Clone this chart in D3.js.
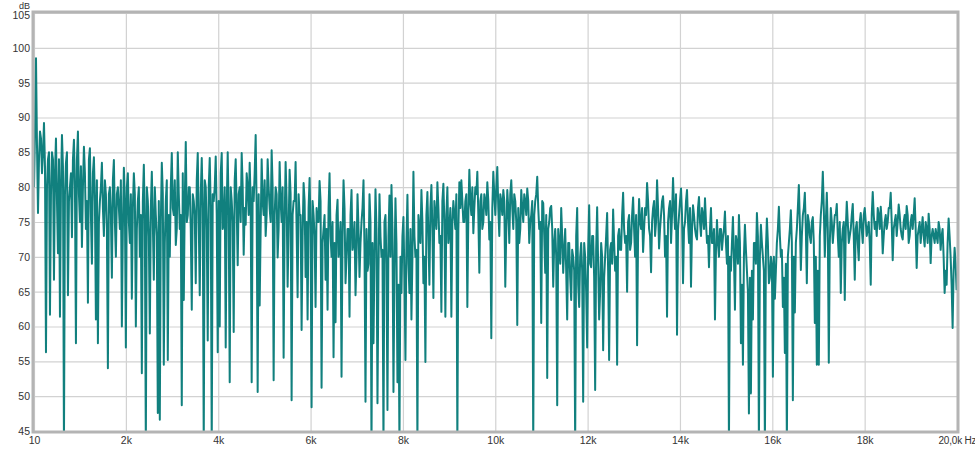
<!DOCTYPE html>
<html>
<head>
<meta charset="utf-8">
<script src="https://cdn.jsdelivr.net/npm/d3@7"></script>
<style>
  html, body { margin: 0; padding: 0; background: #fff; }
  svg { display: block; font-family: "Liberation Sans", Arial, sans-serif; }
</style>
</head>
<body>
<svg id="chart" width="975" height="450"></svg>
<script>
// ---- data ----
const freqStart = 10;      // Hz, first bin
const freqStep = 43.25;    // Hz between bins of `levels`
// levels at bins freqStart + i*freqStep
const levels = [
  80, 98.5, 76.3, 88, 82, 89.2, 56.3, 84, 61.7, 85,
  66.7, 87, 70.5, 61.4, 87.5, 43, 83.5, 64.5, 80, 72.8,
  86.8, 57.6, 88, 75, 71.4, 85.8, 74, 63.4, 85.6, 69,
  84.3, 61, 57.6, 78, 83.5, 73, 79, 54, 80, 67,
  83.9, 70, 80, 74, 60, 82.8, 57, 82, 72, 64,
  82, 60, 78, 70, 53.3, 83.2, 43, 78, 59, 82.2,
  66.7, 76, 47.6, 46.6, 83.5, 54.5, 78, 55.2, 70, 84.9,
  76, 71.7, 85, 74, 48.7, 63.8, 86.5, 76, 80, 62.4,
  78, 66.2, 84.9, 64.5, 84.2, 43, 80, 58, 84.2, 43,
  78, 84.4, 56.3, 60, 84.9, 75, 57, 85, 52, 78,
  59.2, 84, 68.8, 80, 84.9, 70.3, 74.6, 80, 83.5, 52,
  78, 87.5, 50.6, 63, 84, 76, 73, 84, 77, 85.3,
  52.3, 80, 69.9, 83.6, 75, 55.5, 83.6, 65.7, 82.5, 49.4,
  78, 83.6, 64.2, 76, 59.5, 80.6, 67.1, 61, 81.3, 48.4,
  76, 62.8, 75, 80.9, 51.2, 74, 66.7, 62.4, 82, 70,
  55.6, 60.6, 78.2, 72, 52.8, 81, 66.2, 74, 61.4, 79.6,
  72, 64.5, 79, 67.1, 75, 81, 49.2, 68, 79, 43,
  57.6, 79.7, 49, 79, 70, 43, 76, 48, 78.8, 80.3,
  50.6, 78.4, 52, 43, 64.8, 75.7, 55.2, 78.9, 64.8, 61,
  82.2, 70, 43, 74, 79.6, 66.2, 54.9, 79.3, 66, 80.3,
  64.1, 76, 80.7, 72, 62.1, 80.5, 61.4, 80, 74, 61.4,
  78, 74, 43, 80.7, 81, 75, 78, 62.8, 82.5, 76,
  73.4, 80, 82.2, 67.7, 79, 75, 78, 80.7, 72.5, 58.3,
  82.2, 76, 82.9, 73, 78, 79.6, 65.7, 79.6, 72, 81,
  74, 78, 60.2, 72, 79.6, 75, 78, 79.8, 72, 76,
  43, 78, 81.5, 74, 60.5, 77.7, 67.7, 52.6, 75, 77.3,
  65.7, 74, 48.7, 72, 77, 67.7, 74, 61, 72, 63.8,
  70, 43, 77, 62.8, 72, 49.2, 70, 57, 77.4, 68.5,
  73, 50.9, 77.1, 61, 72, 56.6, 70, 76.3, 55.2, 72,
  76.8, 68, 54.5, 74, 71, 79.2, 72, 65, 76, 72,
  78.5, 70, 57.3, 78.3, 74, 70.7, 77, 80.6, 74, 67.8,
  77, 73, 81, 71.2, 76, 78.7, 70, 61.4, 77, 72,
  81.3, 74, 58.8, 76, 79.8, 66.2, 75, 79.6, 72, 65.7,
  77.4, 74, 72.5, 78.6, 73, 76, 78.4, 72, 68.5, 77,
  72, 61, 75.3, 70, 74, 72.8, 76.5, 69, 43, 68,
  75.7, 62.4, 72, 76, 57.6, 54.5, 74.6, 68, 47.5, 50.4,
  61, 72, 76.3, 43, 74.6, 70, 43, 75.5, 66.2, 70,
  52.8, 64, 72, 77.2, 70, 62.8, 56.2, 43, 72, 76.7,
  49.4, 62, 74, 80.3, 68.1, 76, 79.2, 66.2, 75, 72,
  75.7, 60.5, 54.5, 54.5, 76, 82.2, 70, 79.2, 54.8, 77,
  72, 76, 77.6, 70, 64.8, 74, 63.8, 77.9, 72, 74,
  77.6, 66.7, 75, 69.5, 76.3, 72, 77, 73, 75, 66,
  79.3, 74, 73, 76, 77.2, 70.5, 75, 74, 77, 79.2,
  69.5, 75, 73, 77.5, 74, 72.5, 76, 77.3, 72, 75,
  74, 78.4, 68.4, 74, 72, 75.7, 71.5, 74, 76.2, 69.1,
  74, 72, 73, 75, 71, 74, 64.8, 66, 75.5, 70,
  59.8, 71.3, 65.2
];
// levels at the in-between bins freqStart + (i + 0.5)*freqStep
const levelsMid = [
  88, 86, 84, 87, 85, 83, 80, 85, 79, 84,
  82, 78, 84, 80, 83, 79, 85, 78, 82, 84,
  80, 84, 79, 83, 80, 82, 78, 84, 76, 82,
  78, 81, 75, 80, 77, 81, 74, 79, 76, 81,
  75, 79, 77, 81, 74, 78, 80, 75, 79, 77,
  79, 74, 80, 76, 78, 75, 80, 73, 77, 75,
  80, 73, 78, 75, 79, 72, 81, 76, 80, 77,
  81, 74, 79, 76, 82, 78, 75, 80, 74, 79,
  76, 81, 75, 79, 77, 81, 74, 80, 77, 79,
  80, 76, 78, 82, 74, 80, 77, 76, 80, 75,
  81, 77, 79, 75, 80, 77, 82, 76, 78, 80,
  82, 77, 79, 74, 78, 81, 76, 80, 75, 80,
  76, 79, 74, 78, 80, 75, 78, 74, 79, 76,
  78, 74, 79, 76, 73, 78, 75, 77, 74, 78,
  73, 77, 75, 78, 72, 76, 74, 77, 73, 75,
  72, 76, 70, 75, 73, 77, 70, 74, 76, 71,
  75, 70, 74, 72, 77, 71, 74, 69, 75, 72,
  70, 74, 68, 73, 71, 75, 69, 73, 70, 74,
  68, 72, 66, 70, 73, 67, 72, 69, 74, 70,
  73, 71, 76, 72, 75, 70, 76, 73, 77, 74,
  78, 74, 77, 73, 78, 75, 76, 72, 77, 75,
  76, 79, 74, 77, 78, 75, 79, 76, 78, 80,
  77, 79, 76, 78, 74, 79, 76, 78, 75, 77,
  79, 80, 77, 79, 76, 78, 74, 77, 79, 77,
  79, 75, 77, 74, 77, 79, 76, 78, 75, 78,
  76, 79, 77, 75, 78, 73, 76, 74, 77, 74,
  72, 70, 74, 69, 73, 71, 68, 72, 67, 71,
  68, 73, 66, 70, 68, 72, 65, 71, 69, 73,
  67, 71, 69, 65, 70, 67, 73, 68, 71, 69,
  72, 70, 73, 71, 76, 74, 73, 75, 71, 76,
  74, 76, 73, 75, 77, 74, 76, 78, 73, 75,
  78, 75, 77, 74, 78, 76, 73, 75, 78, 76,
  77, 79, 74, 78, 76, 74, 78, 75, 77, 74,
  76, 73, 77, 75, 77, 74, 75, 73, 74, 72,
  74, 71, 72, 74, 71, 74, 72, 73, 70, 72,
  70, 73, 69, 72, 66, 70, 71, 65, 67, 68,
  72, 69, 73, 70, 72, 68, 71, 72, 67, 69,
  70, 68, 74, 73, 71, 67, 69, 70, 74, 72,
  70, 72, 77, 75, 73, 77, 74, 76, 73, 75,
  72, 70, 68, 73, 78, 77, 75, 74, 72, 75,
  74, 76, 73, 75, 72, 75, 74, 75, 73, 76,
  73, 74, 72, 75, 74, 76, 75, 74, 72, 76,
  76, 75, 77, 74, 75, 73, 76, 75, 77, 75,
  74, 76, 75, 76, 73, 75, 74, 76, 73, 76,
  76, 74, 73, 75, 74, 73, 75, 72, 74, 73,
  73, 74, 72, 74, 73, 70, 68, 72, 73, 66,
  68, 69
];
const xTicks = [10, 2000, 4000, 6000, 8000, 10000, 12000, 14000, 16000, 18000, 20000];
const xTickLabels = ["10", "2k", "4k", "6k", "8k", "10k", "12k", "14k", "16k", "18k", "20,0k Hz"];
const yTicks = [45, 50, 55, 60, 65, 70, 75, 80, 85, 90, 95, 100, 105];
const yUnit = "dB";

// ---- layout ----
const plot = { left: 34, right: 957, top: 13, bottom: 431 };
const svg = d3.select("#chart");

const x = d3.scaleLinear().domain([10, 20000]).range([plot.left, plot.right]);
const y = d3.scaleLinear().domain([45, 105]).range([plot.bottom, plot.top]);

const data = [];
levels.forEach((v, i) => {
  data.push({ f: freqStart + i * freqStep, v });
  if (i < levelsMid.length) data.push({ f: freqStart + (i + 0.5) * freqStep, v: levelsMid[i] });
});

const labelFont = "'Liberation Sans', Arial, sans-serif";

// grid + x labels
const gx = svg.append("g")
  .attr("transform", `translate(0,${plot.bottom})`)
  .call(d3.axisBottom(x).tickValues(xTicks)
    .tickSize(-(plot.bottom - plot.top))
    .tickFormat((d, i) => xTickLabels[i]));
gx.select(".domain").remove();
gx.selectAll(".tick line").attr("stroke", "#d2d2d2").attr("stroke-width", 1.2);
gx.selectAll(".tick text")
  .attr("y", 6).attr("dy", "0.71em")
  .attr("fill", "#333").attr("font-size", 10.5)
  .style("font-family", labelFont);
gx.selectAll(".tick text").filter((d) => d === 20000)
  .attr("text-anchor", "start").attr("x", -19)
  .attr("font-size", 10).attr("letter-spacing", -0.2);

// grid + y labels
const gy = svg.append("g")
  .attr("transform", `translate(${plot.left},0)`)
  .call(d3.axisLeft(y).tickValues(yTicks)
    .tickSize(-(plot.right - plot.left))
    .tickFormat(d3.format("d")));
gy.select(".domain").remove();
gy.selectAll(".tick line").attr("stroke", "#d2d2d2").attr("stroke-width", 1.2);
gy.selectAll(".tick text")
  .attr("x", -4)
  .attr("fill", "#333").attr("font-size", 10.5)
  .style("font-family", labelFont);
gy.selectAll(".tick text").filter((d) => d === 105).attr("dy", "0.55em");

svg.append("text")
  .attr("x", 30).attr("y", 9)
  .attr("text-anchor", "end")
  .attr("fill", "#333").attr("font-size", 9)
  .style("font-family", labelFont)
  .text(yUnit);

// clip
svg.append("clipPath").attr("id", "clip")
  .append("rect")
  .attr("x", plot.left).attr("y", plot.top)
  .attr("width", plot.right - plot.left).attr("height", plot.bottom - plot.top);

const line = d3.line().x(d => x(d.f)).y(d => y(d.v));
svg.append("path")
  .datum(data)
  .attr("clip-path", "url(#clip)")
  .attr("fill", "none")
  .attr("stroke", "#11807e")
  .attr("stroke-width", 2)
  .attr("stroke-linejoin", "round")
  .attr("d", line);

// frame
svg.append("rect")
  .attr("x", plot.left - 1).attr("y", plot.top - 1)
  .attr("width", plot.right - plot.left + 2).attr("height", plot.bottom - plot.top + 2)
  .attr("fill", "none")
  .attr("stroke", "#b4b4b4")
  .attr("stroke-width", 3);
</script>
</body>
</html>
